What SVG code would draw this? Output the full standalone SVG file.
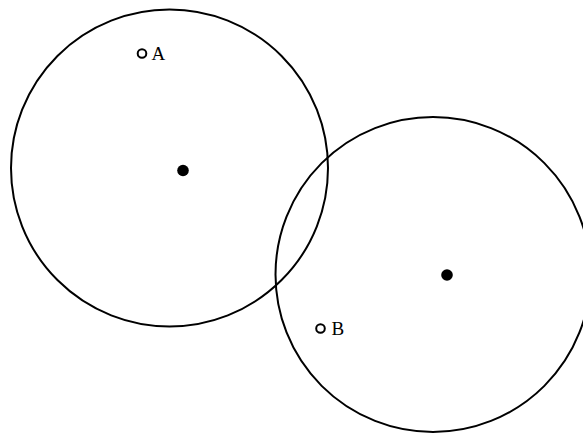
<svg xmlns="http://www.w3.org/2000/svg" width="583" height="433" viewBox="0 0 583 433">
<style>
.big{fill:none;stroke:#000;stroke-width:2}
.pt{fill:none;stroke:#000;stroke-width:2}
.dot{fill:#000}
.lbl{font-family:"Liberation Serif",serif;font-size:19px;fill:#000}
</style>
<rect width="583" height="433" fill="#fff"/>
<g id="circle1"><circle class="big" cx="169.5" cy="168" r="158.5"/><circle class="dot" cx="183" cy="170.5" r="5.8"/></g>
<g id="circle2"><circle class="big" cx="433" cy="274.5" r="157.5"/><circle class="dot" cx="447" cy="275" r="5.8"/></g>
<g id="pointA"><circle class="pt" cx="142" cy="53.5" r="4.3"/><text class="lbl" x="151.5" y="59.5">A</text></g>
<g id="pointB"><circle class="pt" cx="320.5" cy="328.5" r="4.3"/><text class="lbl" x="331.5" y="335">B</text></g>
<g id="connectors"></g>
</svg>
